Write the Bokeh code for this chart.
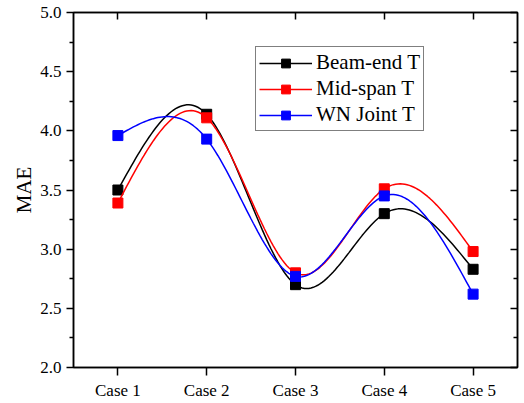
import numpy as np
from bokeh.plotting import figure
from bokeh.models import Range1d, LinearAxis, FixedTicker, Legend, LegendItem
from bokeh.embed import file_html
from bokeh.resources import INLINE

cases = ["Case 1", "Case 2", "Case 3", "Case 4", "Case 5"]
case_pos = [1, 2, 3, 4, 5]
beam_end = [3.50, 4.14, 2.70, 3.30, 2.83]
mid_span = [3.39, 4.11, 2.80, 3.51, 2.98]
wn_joint = [3.96, 3.93, 2.77, 3.45, 2.62]
series_names = ["Beam-end T", "Mid-span T", "WN Joint T"]
colors = ["#000000", "#ff0000", "#0000ff"]
y_ticks = [2.0, 2.5, 3.0, 3.5, 4.0, 4.5, 5.0]
y_minor = [2.25, 2.75, 3.25, 3.75, 4.25, 4.75]

FONT = "Liberation Serif"


def natural_spline(x, y, per_seg=40):
    # curve drawn through the data points (Origin "spline" connection)
    x = np.asarray(x, float)
    y = np.asarray(y, float)
    n = len(x)
    h = np.diff(x)
    A = np.zeros((n, n))
    b = np.zeros(n)
    A[0, 0] = 1
    A[-1, -1] = 1
    for i in range(1, n - 1):
        A[i, i - 1] = h[i - 1]
        A[i, i] = 2 * (h[i - 1] + h[i])
        A[i, i + 1] = h[i]
        b[i] = 6 * ((y[i + 1] - y[i]) / h[i] - (y[i] - y[i - 1]) / h[i - 1])
    M = np.linalg.solve(A, b)
    xs, ys = [], []
    for i in range(n - 1):
        t = np.linspace(0, 1, per_seg, endpoint=(i == n - 2))
        hi = h[i]
        a = 1 - t
        s = (a * y[i] + t * y[i + 1]
             + ((a ** 3 - a) * M[i] + (t ** 3 - t) * M[i + 1]) * hi ** 2 / 6)
        xs.extend(x[i] + t * hi)
        ys.extend(s)
    return xs, ys


p = figure(width=524, height=403, output_backend="svg", toolbar_location=None,
           x_range=Range1d(0.5, 5.5), y_range=Range1d(2.0, 5.0),
           min_border_left=73, min_border_right=7, min_border_top=12,
           min_border_bottom=36)
p.background_fill_color = "white"
p.border_fill_color = "white"
p.xgrid.visible = False
p.ygrid.visible = False
p.outline_line_color = "black"
p.outline_line_width = 1.5

# bottom axis
xa = p.xaxis[0]
xa.ticker = FixedTicker(ticks=case_pos)
xa.major_label_overrides = {c: lab for c, lab in zip(case_pos, cases)}
xa.major_label_text_font = FONT
xa.major_label_text_font_size = "17px"
xa.major_label_text_color = "black"
xa.major_tick_out = 8
xa.major_tick_in = 0
xa.minor_tick_out = 0
xa.axis_line_width = 1.5
xa.major_tick_line_width = 1.5
xa.major_label_standoff = 5

# left axis
ya = p.yaxis[0]
ya.ticker = FixedTicker(ticks=y_ticks, minor_ticks=y_minor)
ya.major_label_overrides = {t: f"{t:.1f}" for t in y_ticks}
ya.major_label_text_font = FONT
ya.major_label_text_font_size = "17px"
ya.major_label_text_color = "black"
ya.major_tick_out = 7
ya.major_tick_in = 0
ya.minor_tick_out = 4
ya.minor_tick_in = 0
ya.axis_line_width = 1.5
ya.major_tick_line_width = 1.5
ya.minor_tick_line_width = 1.5
ya.major_label_standoff = 5
ya.axis_label = "MAE"
ya.axis_label_text_font = FONT
ya.axis_label_text_font_size = "21px"
ya.axis_label_text_font_style = "normal"
ya.axis_label_text_color = "black"
ya.axis_label_standoff = 1

# top axis (inward ticks, no labels)
top = LinearAxis(ticker=FixedTicker(ticks=case_pos),
                 major_label_overrides={c: "" for c in case_pos},
                 major_label_text_font_size="8px",
                 major_tick_in=7, major_tick_out=0, minor_tick_in=0, minor_tick_out=0,
                 axis_line_width=1.5, major_tick_line_width=1.5, major_label_standoff=0)
p.add_layout(top, "above")

# right axis (inward ticks, no labels)
right = LinearAxis(ticker=FixedTicker(ticks=y_ticks, minor_ticks=y_minor),
                   major_label_overrides={t: "" for t in y_ticks},
                   major_label_text_font_size="8px",
                   major_tick_in=7, major_tick_out=0, minor_tick_in=4, minor_tick_out=0,
                   axis_line_width=1.5, major_tick_line_width=1.5, minor_tick_line_width=1.5,
                   major_label_standoff=0)
p.add_layout(right, "right")

items = []
for name, vals, col in zip(series_names, [beam_end, mid_span, wn_joint], colors):
    sx, sy = natural_spline(case_pos, vals)
    ln = p.line(sx, sy, line_color=col, line_width=1.5)
    sc = p.scatter(case_pos, vals, marker="square", size=10, fill_color=col,
                   line_color=col)
    items.append(LegendItem(label=name, renderers=[ln, sc]))

legend = Legend(items=items, location=(182, 236), orientation="vertical",
                label_text_font=FONT, label_text_font_size="21px",
                label_text_color="black", glyph_width=53, glyph_height=22,
                label_height=22,
                label_standoff=4, spacing=1, padding=3, margin=0,
                border_line_color="black", border_line_width=1.2,
                background_fill_color="white", background_fill_alpha=1.0)
p.add_layout(legend, "center")

open("out.html", "w").write(file_html(p, INLINE))
